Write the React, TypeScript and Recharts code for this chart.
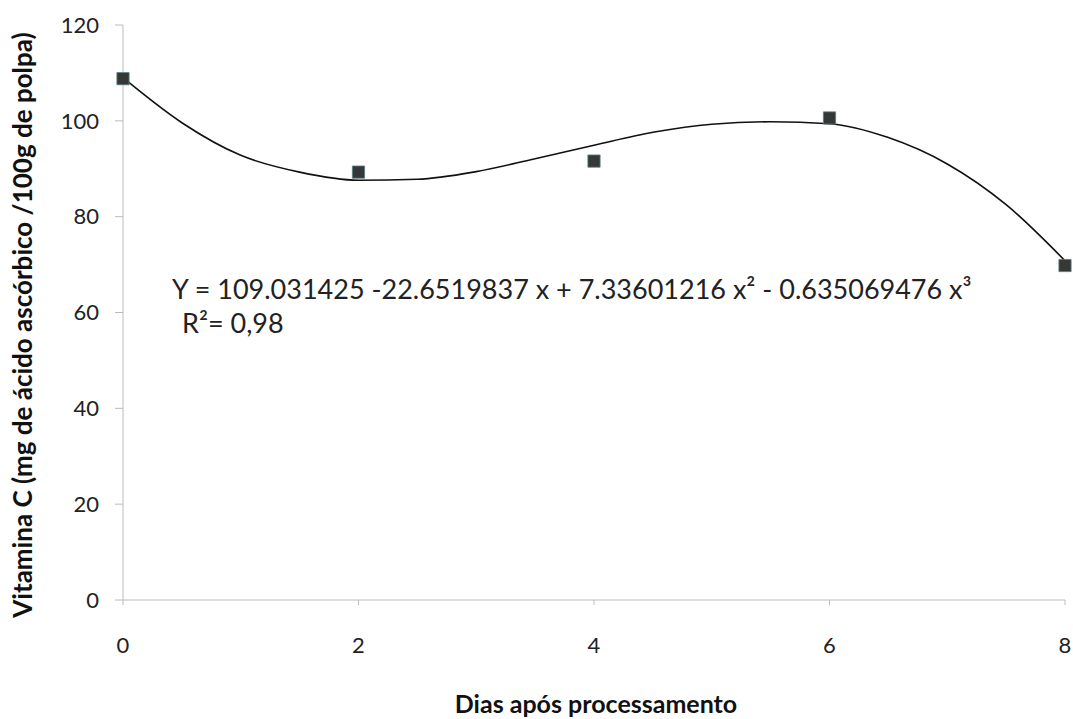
import React from 'react';
import { ComposedChart, Line, Scatter, XAxis, YAxis, ZAxis, Label } from 'recharts';

// observed values (days after processing)
const days = [0, 2, 4, 6, 8];
const vitaminC = [108.8, 89.3, 91.6, 100.6, 69.8];

// fitted cubic trend
const curveX = [0, 0.5, 1, 1.5, 2, 2.5, 3, 3.5, 4, 4.5, 5, 5.5, 6, 6.5, 7, 7.5, 8];
const curveY = [109, 99.6, 92.8, 89.3, 87.6, 87.8, 89.4, 92.1, 94.9, 97.6, 99.3, 99.8, 99.4, 96.5, 91, 82.5, 70.8];

const xTicks = [0, 2, 4, 6, 8];
const yTicks = [0, 20, 40, 60, 80, 100, 120];

const points = days.map((d, i) => ({ x: d, y: vitaminC[i] }));
const curve = curveX.map((d, i) => ({ x: d, y: curveY[i] }));

const FONT = 'Lato, "Liberation Sans", sans-serif';
const axisColor = '#b8bcc0';

const App: React.FC = () => {
  return (
    <div style={{ position: 'relative', width: 1073, height: 719, background: '#fff' }}>
      <style>{'body { margin: 0; }'}</style>
      <ComposedChart width={1073} height={719} margin={{ top: 25, right: 8, bottom: 19, left: 0 }}>
        <XAxis
          type="number"
          dataKey="x"
          domain={[0, 8]}
          ticks={xTicks}
          height={100}
          stroke={axisColor}
          tickSize={5}
          tickMargin={32}
          tick={{ fill: '#222', fontSize: 22, fontFamily: FONT }}
        >
          <Label
            content={() => (
              <text x={596} y={713} textAnchor="middle" fontFamily={FONT} fontWeight="bold" fontSize={25} fill="#111">
                Dias após processamento
              </text>
            )}
          />
        </XAxis>
        <YAxis
          type="number"
          domain={[0, 120]}
          ticks={yTicks}
          width={123}
          stroke={axisColor}
          tickSize={8}
          tickMargin={16}
          tick={{ fill: '#222', fontSize: 22, fontFamily: FONT }}
        >
          <Label
            content={() => (
              <text
                x={22}
                y={325}
                transform="rotate(-90 22 325)"
                textAnchor="middle"
                dominantBaseline="central"
                fontFamily={FONT}
                fontWeight="bold"
                fontSize={26}
                fill="#111"
              >
                Vitamina C (mg de ácido ascórbico /100g de polpa)
              </text>
            )}
          />
        </YAxis>
        <ZAxis range={[150, 150]} />
        <Line
          data={curve}
          dataKey="y"
          type="monotone"
          stroke="#111"
          strokeWidth={1.6}
          dot={false}
          activeDot={false}
          isAnimationActive={false}
        />
        <Scatter
          data={points}
          dataKey="y"
          shape="square"
          fill="#363838"
          stroke="#5a7f86"
          strokeWidth={0.8}
          isAnimationActive={false}
        />
      </ComposedChart>
      <div
        style={{
          position: 'absolute',
          left: 172,
          top: 272,
          fontFamily: FONT,
          fontSize: 27,
          color: '#222',
          lineHeight: '34px',
          whiteSpace: 'nowrap',
        }}
      >
        <div>Y = 109.031425 -22.6519837 x + 7.33601216 x² - 0.635069476 x³</div>
        <div style={{ paddingLeft: 10 }}>R²= 0,98</div>
      </div>
    </div>
  );
};

export default App;
